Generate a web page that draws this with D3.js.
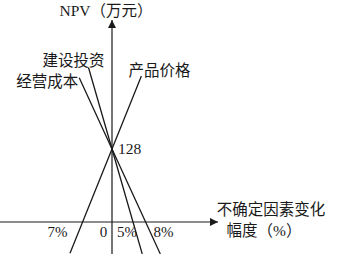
<!DOCTYPE html>
<html>
<head>
<meta charset="utf-8">
<script src="https://cdn.jsdelivr.net/npm/d3@7"></script>
<style>
  html, body { margin: 0; padding: 0; background: #fff; }
  svg { display: block; }
  text { fill: #1a1a1a; font-family: "Liberation Serif", "DejaVu Serif", "Noto Sans CJK SC", serif; }
  .cjk { font-family: "Liberation Serif", "Noto Sans CJK SC", sans-serif; }
</style>
</head>
<body>
<div id="container"></div>
<script>
const WIDTH = 350,
      HEIGHT = 254;

// sensitivity lines: points as [change %, NPV]
const factors = ["建设投资", "经营成本", "产品价格"];
const investPts = [[-5.6, 271], [0, 128], [5, 0], [7.2, -56]];
const costPts   = [[-7.8, 253], [0, 128], [8, 0], [11.5, -56]];
const pricePts  = [[7, 256], [0, 128], [-7, 0], [-10, -55]];
const series = [investPts, costPts, pricePts];

const baseNPV = 128;
const tickValues = [-7, 0, 5, 8];
const tickLabels = ["7%", "0", "5%", "8%"];

// origin of the axes in pixels
const ox = 112, oy = 222;

const svg = d3.select("#container").append("svg")
    .attr("width", WIDTH).attr("height", HEIGHT);

const xScale = d3.scaleLinear().domain([0, 10]).range([ox, ox + 42]);
const yScale = d3.scaleLinear().domain([0, 100]).range([oy, oy - 57]);

const defs = svg.append("defs");
defs.append("marker")
    .attr("id", "arrow")
    .attr("viewBox", "0 0 10 10")
    .attr("refX", 10).attr("refY", 5)
    .attr("markerUnits", "userSpaceOnUse")
    .attr("markerWidth", 12).attr("markerHeight", 8)
    .attr("orient", "auto")
    .append("path")
    .attr("d", "M0,0 L10,5 L0,10 Z")
    .attr("fill", "#1a1a1a");

// x axis
svg.append("line")
    .attr("x1", 0).attr("x2", 218)
    .attr("y1", yScale(0)).attr("y2", yScale(0))
    .attr("stroke", "#1a1a1a").attr("stroke-width", 1.2)
    .attr("marker-end", "url(#arrow)");

// y axis
svg.append("line")
    .attr("x1", xScale(0)).attr("x2", xScale(0))
    .attr("y1", HEIGHT).attr("y2", 20)
    .attr("stroke", "#1a1a1a").attr("stroke-width", 1.2)
    .attr("marker-end", "url(#arrow)");

const line = d3.line()
    .x(d => xScale(d[0]))
    .y(d => yScale(d[1]));

svg.selectAll("path.factor")
    .data(series)
    .join("path")
    .attr("class", "factor")
    .attr("d", d => line(d.slice().sort((a, b) => a[0] - b[0])))
    .attr("fill", "none")
    .attr("stroke", "#1a1a1a")
    .attr("stroke-width", 1.3);

// factor labels, near the upper end of each line
const labelPos = [
    { dx: -46, dy: -2 },
    { dx: -63, dy: 9 },
    { dx: -13, dy: -0.5 }
];
svg.selectAll("text.factor")
    .data(factors)
    .join("text")
    .attr("class", "factor cjk")
    .attr("x", (d, i) => xScale(series[i][0][0]) + labelPos[i].dx)
    .attr("y", (d, i) => yScale(series[i][0][1]) + labelPos[i].dy)
    .attr("font-size", 15.5)
    .text(d => d);

// base NPV label
svg.append("text")
    .attr("x", xScale(0) + 6)
    .attr("y", yScale(baseNPV) + 5)
    .attr("font-size", 15.5)
    .text(baseNPV);

// tick labels along the x axis
const tickDx = [-25, -8.5, -6, 18];
svg.selectAll("text.tick")
    .data(tickValues)
    .join("text")
    .attr("class", "tick")
    .attr("x", (d, i) => xScale(d) + tickDx[i])
    .attr("y", yScale(0) + 15)
    .attr("text-anchor", "middle")
    .attr("font-size", 15)
    .text((d, i) => tickLabels[i]);

// axis titles
svg.append("text")
    .attr("class", "cjk")
    .attr("x", 106)
    .attr("y", 15.5)
    .attr("text-anchor", "middle")
    .attr("font-size", 15.5)
    .text("NPV（万元）");

svg.append("text")
    .attr("class", "cjk")
    .attr("x", 271)
    .attr("y", 215)
    .attr("text-anchor", "middle")
    .attr("font-size", 15.5)
    .text("不确定因素变化");

svg.append("text")
    .attr("class", "cjk")
    .attr("x", 264)
    .attr("y", 236)
    .attr("text-anchor", "middle")
    .attr("font-size", 15.5)
    .text("幅度（%）");
</script>
</body>
</html>
